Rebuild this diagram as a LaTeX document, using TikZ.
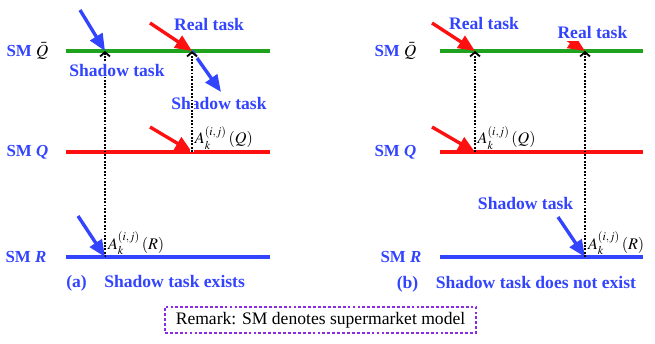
\documentclass[tikz,border=0pt]{standalone}
\usepackage{mathptmx}
\usepackage[no-math]{fontspec}
\setmainfont{Liberation Serif}
\usepackage{xcolor}
\usetikzlibrary{arrows.meta}
\definecolor{smBlue}{HTML}{3344FF}
\definecolor{smGreen}{HTML}{1FA31F}
\definecolor{smRed}{HTML}{FF1010}
\definecolor{smViolet}{HTML}{8A2BE2}
\tikzset{
  smline/.style={line width=2.2pt},
  smlabel/.style={font=\fontsize{12}{14}\selectfont\bfseries, text=smBlue, anchor=east, inner sep=1pt},
  tasklabel/.style={font=\fontsize{12.5}{14}\selectfont\bfseries, text=smBlue, fill=white, inner sep=0.5pt},
  caplabel/.style={font=\fontsize{12.5}{14}\selectfont\bfseries, text=smBlue, inner sep=1pt},
  alabel/.style={font=\fontsize{11.5}{13}\selectfont, anchor=south west, inner sep=1pt},
  realarrow/.style={-{Triangle[length=12pt,width=10pt]}, line width=2.4pt, smRed},
  shadowarrow/.style={-{Triangle[length=12pt,width=10pt]}, line width=2.4pt, smBlue},
  actlink/.style={-{Straight Barb[length=3pt,width=7pt]}, line width=1.3pt, dash pattern=on 1.3pt off 1.1pt},
}

\begin{document}
\begin{tikzpicture}[>=Stealth]
  \useasboundingbox (0,0) rectangle (16.375,8.575);
  % (a) shadow task exists
  \node[smlabel] (qbA) at (1.25,7.3) {SM \textcolor{black}{\mdseries$\bar{Q}$}};
  \node[smlabel] (qA) at (1.25,4.775) {SM \textit{Q}};
  \node[smlabel] (rA) at (1.2,2.15) {SM \textit{R}};
  \draw[smline, smGreen] (1.65,7.3) coordinate (qbA0) -- (6.75,7.3) coordinate (qbA1);
  \draw[smline, smRed] (1.65,4.775) coordinate (qA0) -- (6.75,4.775) coordinate (qA1);
  \draw[smline, smBlue] (1.65,2.15) coordinate (rA0) -- (6.75,2.15) coordinate (rA1);
  \coordinate (eA1) at (2.625,7.3);
  \coordinate (eA1r) at (2.625,2.15);
  \coordinate (eA2) at (4.8,7.3);
  \coordinate (eA2q) at (4.8,4.775);
  \coordinate (inA1) at (2.0,8.325);
  \coordinate (inA2) at (3.75,8.0);
  \coordinate (outA2) at (5.525,6.275);
  \coordinate (inA3) at (3.75,5.4);
  \coordinate (inA4) at (1.95,3.175);
  \draw[actlink] (eA1r) -- (eA1);
  \draw[shadowarrow] (inA1) -- (eA1);
  \draw[realarrow] (inA2) -- (eA2);
  \draw[shadowarrow] (eA2) -- (outA2);
  \draw[realarrow] (inA3) -- (eA2q);
  \draw[shadowarrow] (inA4) -- (eA1r);
  \node[tasklabel] (realA) at (5.225,7.975) {Real task};
  \node[tasklabel] (shadowA1) at (2.925,6.825) {Shadow task};
  \node[tasklabel] (shadowA2) at (5.475,6.0) {Shadow task};
  \draw[actlink, preaction={draw=white, line width=3pt, dash pattern={}}] (eA2q) -- (eA2);
  \node[alabel] (actAq) at (4.83,4.8) {$A_k^{(i,j)}\,(Q)$};
  \node[alabel] (actAr) at (2.66,2.17) {$A_k^{(i,j)}\,(R)$};
  \node[caplabel] (capA) at (3.89,1.5) {(a)\quad Shadow task exists};

  % (b) shadow task does not exist
  \node[smlabel] (qbB) at (10.45,7.3) {SM \textcolor{black}{\mdseries$\bar{Q}$}};
  \node[smlabel] (qB) at (10.45,4.775) {SM \textit{Q}};
  \node[smlabel] (rB) at (10.575,2.15) {SM \textit{R}};
  \draw[smline, smGreen] (11.0,7.3) coordinate (qbB0) -- (16.075,7.3) coordinate (qbB1);
  \draw[smline, smRed] (11.0,4.775) coordinate (qB0) -- (16.075,4.775) coordinate (qB1);
  \draw[smline, smBlue] (11.0,2.15) coordinate (rB0) -- (16.075,2.15) coordinate (rB1);
  \coordinate (eB1) at (11.875,7.3);
  \coordinate (eB1q) at (11.875,4.775);
  \coordinate (eB2) at (14.625,7.3);
  \coordinate (eB2r) at (14.625,2.15);
  \coordinate (inB1) at (10.8,8.0);
  \coordinate (inB2) at (14.02,7.69);
  \coordinate (inB3) at (10.8,5.4);
  \coordinate (inB4) at (13.95,3.15);
  \draw[realarrow] (inB1) -- (eB1);
  \draw[realarrow] (inB2) -- (eB2);
  \draw[realarrow] (inB3) -- (eB1q);
  \draw[shadowarrow] (inB4) -- (eB2r);
  \node[tasklabel] (realB1) at (12.1,8.0) {Real task};
  \node[tasklabel, inner sep=2pt] (realB2) at (14.81,7.775) {Real task};
  \node[tasklabel] (shadowB) at (13.14,3.5) {Shadow task};
  \draw[actlink] (eB1q) -- (eB1);
  \draw[actlink] (eB2r) -- (eB2);
  \node[alabel] (actBq) at (11.9,4.8) {$A_k^{(i,j)}\,(Q)$};
  \node[alabel] (actBr) at (14.66,2.17) {$A_k^{(i,j)}\,(R)$};
  \node[caplabel] (capB) at (12.91,1.475) {(b)\quad Shadow task does not exist};

  \node[draw=smViolet, line width=1.2pt, dash pattern=on 2pt off 1.5pt,
    minimum width=7.775cm, minimum height=0.65cm, font=\fontsize{12.5}{14}\selectfont] (remark) at (8.0125,0.575)
    {Remark: SM denotes supermarket model};
\end{tikzpicture}
\end{document}
